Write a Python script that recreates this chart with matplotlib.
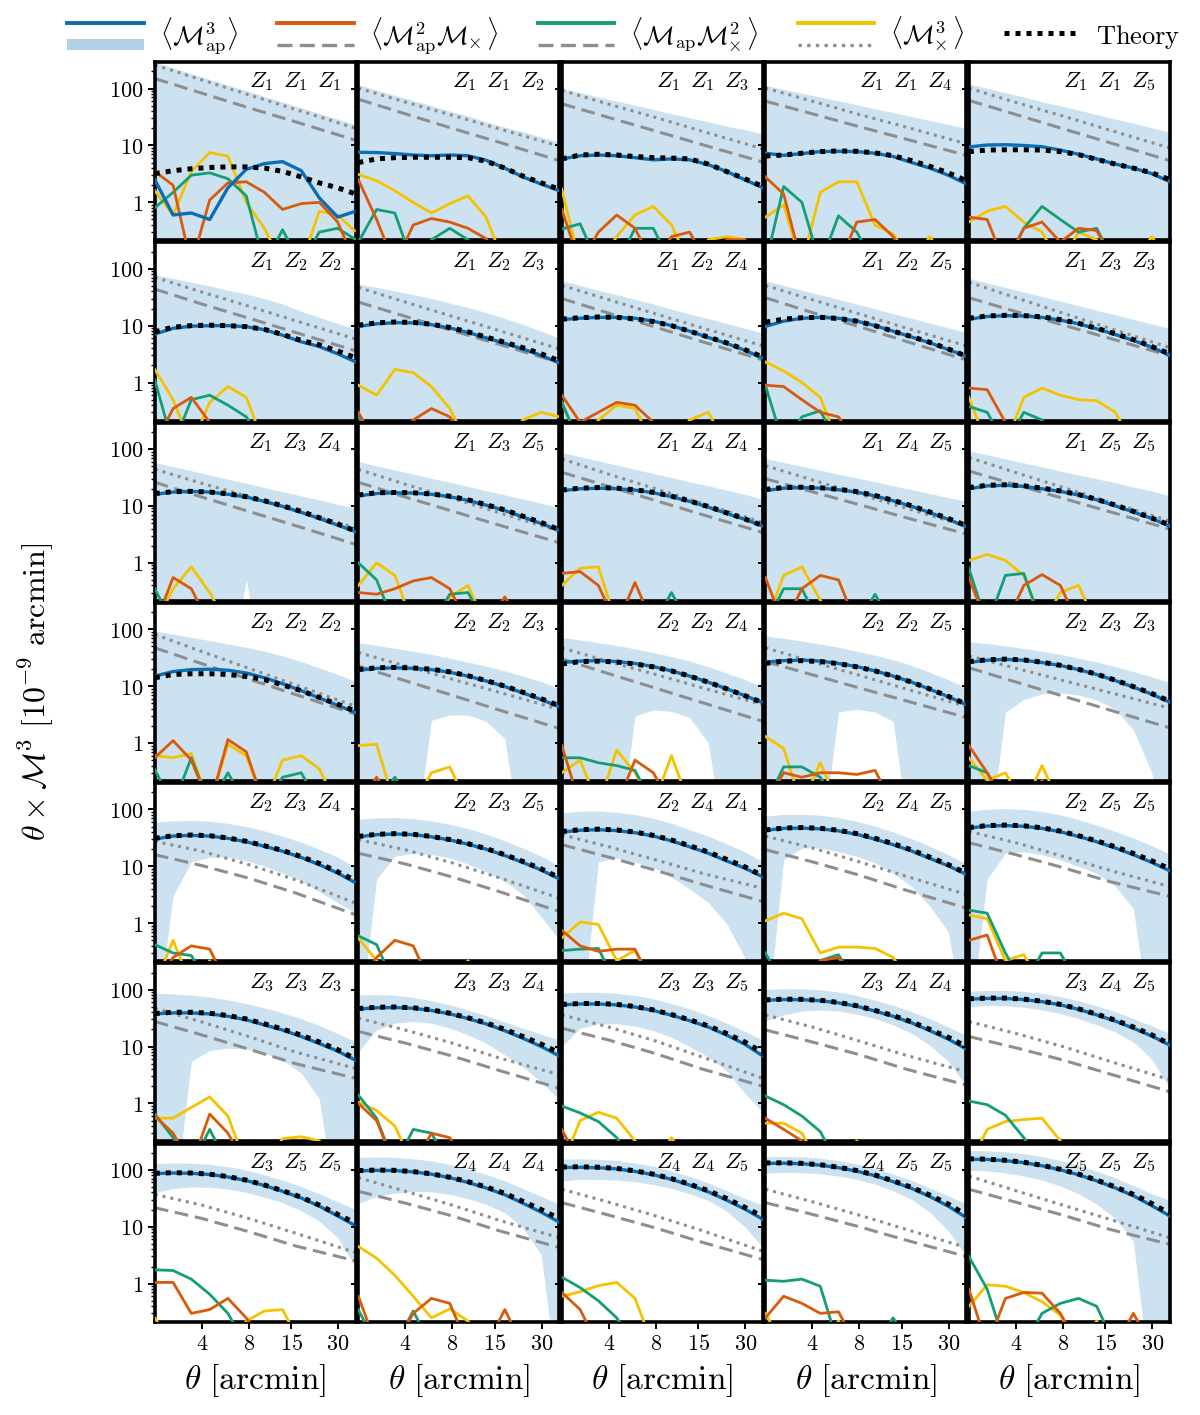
import numpy as np
import matplotlib
matplotlib.use('Agg')
import matplotlib.pyplot as plt
from matplotlib.lines import Line2D
from matplotlib.patches import Patch, Rectangle
from matplotlib.legend_handler import HandlerBase
from matplotlib.ticker import FixedLocator, FuncFormatter, LogLocator, NullFormatter, NullLocator

plt.rcParams['mathtext.fontset'] = 'cm'
plt.rcParams['font.family'] = ['DejaVu Serif']

# ---------------- data ----------------
theta_arcmin = [2.0, 2.62, 3.43, 4.5, 5.89, 7.72, 10.1, 13.2, 17.4, 22.7, 29.8, 39.0]
theta_noise_arcmin = [2.0, 4.0, 8.0, 16.0, 39.0]

bin_triplets = [
    "Z_1 Z_1 Z_1", "Z_1 Z_1 Z_2", "Z_1 Z_1 Z_3", "Z_1 Z_1 Z_4", "Z_1 Z_1 Z_5",
    "Z_1 Z_2 Z_2", "Z_1 Z_2 Z_3", "Z_1 Z_2 Z_4", "Z_1 Z_2 Z_5", "Z_1 Z_3 Z_3",
    "Z_1 Z_3 Z_4", "Z_1 Z_3 Z_5", "Z_1 Z_4 Z_4", "Z_1 Z_4 Z_5", "Z_1 Z_5 Z_5",
    "Z_2 Z_2 Z_2", "Z_2 Z_2 Z_3", "Z_2 Z_2 Z_4", "Z_2 Z_2 Z_5", "Z_2 Z_3 Z_3",
    "Z_2 Z_3 Z_4", "Z_2 Z_3 Z_5", "Z_2 Z_4 Z_4", "Z_2 Z_4 Z_5", "Z_2 Z_5 Z_5",
    "Z_3 Z_3 Z_3", "Z_3 Z_3 Z_4", "Z_3 Z_3 Z_5", "Z_3 Z_4 Z_4", "Z_3 Z_4 Z_5",
    "Z_3 Z_5 Z_5", "Z_4 Z_4 Z_4", "Z_4 Z_4 Z_5", "Z_4 Z_5 Z_5", "Z_5 Z_5 Z_5",
]

x_ticks = [4, 8, 15, 30]
y_ticks = [1, 10, 100]

# <M_ap^3> measured
map3_E = [
    [2.5, 0.6, 0.65, 0.5, 1.8, 3.8, 4.8, 5.2, 3.6, 1.2, 0.55, 0.7],
    [7.6, 7.5, 7.2, 6.8, 6.6, 6.8, 6.6, 5.5, 4.0, 2.8, 2.1, 1.6],
    [5.8, 6.6, 6.8, 6.6, 6.1, 5.6, 5.8, 5.6, 4.6, 3.5, 2.5, 1.8],
    [7.3, 6.7, 7.2, 7.8, 7.9, 7.8, 7.3, 6.4, 5.0, 4.0, 3.0, 2.1],
    [9.4, 10.2, 10.3, 10.0, 9.5, 8.3, 7.0, 5.8, 4.7, 4.0, 3.2, 2.3],
    [7.1, 9.0, 9.8, 10.0, 10.0, 9.6, 8.5, 6.8, 5.2, 4.3, 3.2, 2.3],
    [9.7, 10.8, 11.3, 11.2, 10.4, 9.1, 7.6, 6.1, 4.9, 3.9, 3.0, 2.2],
    [12.8, 13.5, 14.0, 14.0, 13.5, 12.0, 10.0, 8.0, 6.2, 4.9, 3.7, 2.7],
    [9.7, 12.0, 13.5, 14.0, 13.5, 12.0, 10.0, 8.0, 6.3, 5.0, 3.8, 2.9],
    [13.0, 14.5, 15.0, 14.8, 14.0, 12.5, 10.8, 8.8, 7.0, 5.5, 4.2, 3.0],
    [16.0, 17.5, 18.0, 17.5, 16.0, 14.3, 12.0, 9.8, 7.7, 6.0, 4.6, 3.5],
    [15.0, 16.5, 17.0, 16.8, 16.0, 14.5, 12.5, 10.3, 8.3, 6.4, 4.9, 3.7],
    [18.5, 20.0, 20.5, 20.0, 19.0, 17.0, 14.5, 12.0, 9.5, 7.4, 5.8, 4.4],
    [18.5, 20.5, 21.0, 20.5, 19.2, 17.5, 15.0, 12.3, 9.8, 7.6, 5.8, 4.3],
    [20.0, 22.5, 23.0, 22.0, 20.0, 18.0, 15.5, 12.8, 10.0, 7.8, 6.0, 4.4],
    [15.0, 18.0, 19.5, 19.8, 19.0, 17.0, 14.0, 11.0, 8.3, 6.2, 4.6, 3.4],
    [19.0, 20.5, 21.0, 20.5, 19.5, 17.5, 15.0, 12.3, 9.8, 7.6, 5.8, 4.3],
    [26.0, 27.5, 28.0, 27.0, 25.0, 22.0, 18.5, 15.0, 11.7, 9.0, 6.8, 5.1],
    [26.5, 28.0, 28.5, 27.5, 25.0, 22.0, 18.5, 15.0, 11.7, 8.8, 6.5, 4.7],
    [26.0, 28.5, 29.5, 28.5, 26.0, 23.0, 19.5, 16.0, 12.5, 9.6, 7.2, 5.2],
    [30.0, 34.0, 35.0, 34.0, 31.0, 27.0, 22.5, 18.4, 14.3, 10.7, 7.6, 5.1],
    [33.0, 36.0, 37.0, 36.0, 33.0, 29.0, 24.5, 20.0, 15.5, 11.7, 8.6, 6.0],
    [40.0, 43.0, 44.0, 42.5, 39.0, 34.0, 28.0, 22.0, 17.0, 12.5, 9.3, 6.5],
    [43.0, 46.5, 47.0, 45.5, 42.0, 36.5, 30.0, 24.0, 18.5, 13.8, 10.2, 7.2],
    [47.0, 51.0, 52.0, 50.5, 46.5, 40.5, 33.5, 27.0, 21.0, 16.0, 11.7, 8.3],
    [37.5, 39.0, 39.0, 37.5, 34.0, 29.5, 24.0, 19.5, 15.0, 11.3, 8.3, 5.7],
    [45.5, 48.0, 48.5, 47.0, 43.0, 37.5, 31.0, 25.0, 19.0, 14.0, 10.0, 6.8],
    [54.0, 56.0, 56.0, 54.0, 49.5, 43.0, 35.5, 28.5, 22.0, 16.0, 11.0, 6.8],
    [65.0, 67.0, 66.5, 64.0, 58.5, 51.0, 42.0, 34.0, 26.0, 19.0, 13.5, 9.0],
    [68.0, 70.0, 70.0, 67.0, 61.5, 54.0, 45.0, 36.0, 28.0, 21.0, 15.3, 10.5],
    [86.0, 88.0, 87.0, 83.0, 75.0, 65.0, 53.0, 42.0, 32.0, 23.0, 15.5, 10.3],
    [96.0, 98.0, 97.0, 92.0, 84.0, 73.0, 60.0, 48.0, 36.5, 26.0, 18.0, 12.0],
    [110.0, 111.0, 109.0, 104.0, 94.0, 82.0, 68.0, 54.0, 41.0, 29.5, 20.5, 13.5],
    [130.0, 131.0, 128.0, 121.0, 109.0, 95.0, 79.0, 62.0, 47.0, 34.0, 23.0, 14.4],
    [154.0, 152.0, 145.0, 134.0, 118.0, 100.0, 82.0, 64.0, 48.0, 35.0, 23.5, 15.4],
]

# theory prediction
map3_theory = [
    [3.2, 3.6, 3.9, 4.1, 4.2, 4.2, 4.0, 3.5, 2.8, 2.2, 1.8, 1.4],
    [5.0, 5.8, 6.1, 6.2, 6.2, 6.2, 6.1, 5.3, 4.0, 2.9, 2.2, 1.7],
    [5.8, 6.8, 7.0, 6.8, 6.4, 6.1, 6.0, 5.8, 4.7, 3.5, 2.6, 1.9],
    [6.5, 6.8, 7.3, 7.8, 8.0, 7.9, 7.4, 6.6, 5.4, 4.3, 3.3, 2.4],
    [7.8, 8.3, 8.4, 8.4, 8.3, 7.8, 6.9, 5.7, 4.7, 4.0, 3.3, 2.5],
    [7.8, 9.4, 10.0, 10.2, 10.0, 9.6, 8.6, 7.0, 5.5, 4.6, 3.6, 2.7],
    [10.2, 11.2, 11.6, 11.4, 10.6, 9.3, 7.8, 6.3, 5.1, 4.1, 3.2, 2.4],
    [13.0, 13.8, 14.2, 14.0, 13.2, 11.8, 10.0, 8.0, 6.3, 5.0, 3.8, 2.8],
    [11.5, 13.0, 13.8, 14.0, 13.4, 12.0, 10.0, 8.0, 6.4, 5.1, 3.9, 2.9],
    [13.5, 14.8, 15.2, 15.0, 14.3, 12.8, 11.0, 9.0, 7.2, 5.7, 4.3, 3.2],
    [16.5, 17.8, 18.0, 17.5, 16.3, 14.5, 12.3, 10.0, 8.0, 6.2, 4.8, 3.6],
    [15.5, 17.0, 17.2, 17.0, 16.2, 14.8, 12.8, 10.5, 8.5, 6.6, 5.1, 3.8],
    [19.0, 20.5, 21.0, 20.5, 19.2, 17.3, 14.8, 12.2, 9.7, 7.6, 5.9, 4.5],
    [19.5, 21.0, 21.3, 20.8, 19.6, 17.8, 15.2, 12.5, 10.0, 7.8, 6.0, 4.5],
    [21.0, 23.0, 23.5, 22.5, 20.5, 18.3, 15.8, 13.0, 10.3, 8.0, 6.1, 4.6],
    [14.0, 16.0, 16.5, 16.5, 16.0, 14.8, 13.0, 10.5, 8.3, 6.3, 4.8, 3.6],
    [19.5, 21.0, 21.3, 20.8, 19.8, 17.8, 15.2, 12.5, 10.0, 7.8, 6.0, 4.5],
    [24.5, 27.0, 27.5, 26.5, 24.5, 21.8, 18.5, 15.0, 11.7, 9.0, 6.8, 5.1],
    [25.0, 27.5, 28.0, 27.0, 24.8, 21.8, 18.5, 15.0, 11.7, 8.9, 6.6, 4.8],
    [27.0, 29.0, 29.8, 28.8, 26.3, 23.2, 19.7, 16.2, 12.7, 9.8, 7.4, 5.4],
    [31.0, 34.5, 35.5, 34.5, 31.5, 27.5, 23.0, 19.0, 14.8, 11.2, 8.0, 5.6],
    [33.5, 36.5, 37.5, 36.5, 33.5, 29.5, 25.0, 20.5, 16.0, 12.2, 9.0, 6.3],
    [41.0, 44.0, 45.0, 43.5, 40.0, 35.0, 29.0, 23.0, 17.8, 13.3, 9.8, 6.8],
    [43.5, 47.0, 48.0, 46.5, 43.0, 37.5, 31.0, 25.0, 19.3, 14.5, 10.7, 7.5],
    [48.0, 52.0, 53.0, 51.5, 47.5, 41.5, 34.5, 28.0, 22.0, 16.8, 12.5, 9.0],
    [38.0, 40.0, 40.0, 38.5, 35.0, 30.5, 25.0, 20.3, 15.8, 12.0, 8.8, 6.0],
    [46.5, 49.0, 49.5, 48.0, 44.0, 38.5, 32.0, 26.0, 20.0, 15.0, 11.0, 7.7],
    [55.0, 57.0, 57.0, 55.0, 50.5, 44.0, 36.5, 29.5, 23.0, 17.0, 12.0, 7.8],
    [66.0, 68.0, 67.5, 65.0, 59.5, 52.0, 43.0, 35.0, 27.0, 20.0, 14.5, 10.0],
    [69.0, 71.0, 71.0, 68.0, 62.5, 55.0, 46.0, 37.0, 29.0, 22.0, 16.0, 11.0],
    [87.0, 89.0, 88.0, 84.0, 76.0, 66.0, 54.0, 43.0, 33.0, 24.0, 16.5, 11.5],
    [97.0, 99.0, 98.0, 93.0, 85.0, 74.0, 62.0, 50.0, 38.5, 28.0, 20.0, 13.8],
    [112.0, 113.0, 111.0, 106.0, 96.0, 84.0, 70.0, 56.0, 43.0, 31.5, 22.0, 15.0],
    [132.0, 133.0, 130.0, 123.0, 111.0, 97.0, 81.0, 64.0, 49.0, 36.0, 25.0, 16.0],
    [156.0, 154.0, 147.0, 136.0, 120.0, 102.0, 84.0, 66.0, 50.0, 37.0, 25.5, 17.0],
]

# 1-sigma band (upper / lower); 0.01 = below the plotted range
map3_band_hi = [
    [290, 230, 183, 145, 115, 92, 73, 58, 46, 36.5, 29, 23],
    [117, 94, 76, 62, 50, 40, 33, 26, 21, 17.5, 14, 11.5],
    [100, 85, 71, 60, 51, 43, 36, 31, 26, 22, 19, 16],
    [114, 97, 83, 71, 61, 52, 44, 38, 32, 27.5, 23.5, 20],
    [121, 101, 85, 71, 59, 50, 42, 35, 29, 24.5, 20.5, 17],
    [78, 68, 58, 50, 42, 36, 30, 24, 18, 14, 11, 8.5],
    [54, 47, 41, 35, 30, 25, 21, 17, 13.5, 10.5, 8, 6],
    [62, 51, 42, 35, 29, 24, 19.5, 16, 13.3, 11, 9, 7.4],
    [62, 51, 42, 35, 29, 24, 19.7, 16.3, 13.5, 11.1, 9.2, 7.6],
    [68, 56.5, 47, 39, 32.5, 27, 22.5, 18.6, 15.5, 12.9, 10.7, 8.9],
    [58, 49, 41.5, 35, 29.5, 25, 21, 17.8, 15, 12.7, 10.7, 9],
    [60, 50.5, 43, 36, 30.5, 26, 22, 18.5, 15.6, 13.2, 11.1, 9.4],
    [87, 73, 62, 52, 44, 37, 31.5, 26.5, 22.5, 19, 16, 13],
    [68, 58, 49.5, 42.5, 36, 31, 26.5, 22.5, 19.3, 16.5, 14, 12],
    [93, 79, 67, 57, 48.5, 41, 35, 30, 25.5, 21.5, 18.3, 15],
    [93, 82, 72, 63, 55, 48, 41, 34, 27, 21, 16, 12],
    [58, 52, 46, 41, 36, 31, 26.5, 22.5, 18.5, 15, 12, 9],
    [71, 65, 58, 52, 45, 39, 33, 27.5, 22, 17, 13, 9.7],
    [76, 69, 62, 55, 48, 41, 35, 29, 23, 17.5, 13, 9.4],
    [60, 56, 51, 46, 41, 36, 31, 26.5, 22, 18, 14.5, 11.5],
    [60, 63, 64, 62, 57, 50, 42, 34, 26.5, 20, 14.5, 9.5],
    [67, 71, 72, 69, 63, 55, 46, 37, 28, 21, 15, 10],
    [87, 93, 94, 89, 81, 70, 57, 44, 34, 25, 18, 12],
    [76, 82, 82, 79, 72, 62, 51, 40, 30.5, 22.5, 16, 11],
    [93, 101, 103, 100, 92, 80, 66, 53, 41, 31.5, 23, 16.5],
    [87, 84, 80, 74, 66, 57, 48, 39, 31, 23.5, 17, 12],
    [81, 82, 80, 73, 64, 54, 44, 35, 27, 21, 16.5, 13],
    [87, 90, 90, 86, 79, 69, 57, 46, 35, 26, 18.5, 13],
    [100, 104, 103, 99, 91, 79, 65, 53, 41, 31, 22, 15.5],
    [93, 97, 97, 93, 86, 76, 64, 52, 41, 31, 23, 17],
    [129, 132, 131, 125, 114, 99, 82, 66, 51, 38, 27.5, 20],
    [165, 168, 166, 157, 143, 125, 103, 83, 64, 47, 34, 25],
    [154, 156, 153, 146, 132, 116, 96, 77, 59, 43.5, 31.5, 24],
    [170, 172, 169, 160, 145, 127, 106, 84, 65, 48, 35, 25],
    [218, 216, 207, 193, 171, 146, 120, 95, 72, 53, 38, 29],
]

map3_band_lo = [
    [0.01] * 12, [0.01] * 12, [0.01] * 12, [0.01] * 12, [0.01] * 12,
    [0.01] * 12, [0.01] * 12, [0.01] * 12, [0.01] * 12, [0.01] * 12,
    [0.01, 0.01, 0.01, 0.01, 0.01, 0.5, 0.01, 0.01, 0.01, 0.01, 0.01, 0.01],
    [0.01] * 12, [0.01] * 12, [0.01] * 12, [0.01] * 12,
    [0.01] * 12,
    [0.01, 0.01, 0.01, 0.01, 2.5, 3.1, 3.1, 2.4, 1.2, 0.01, 0.01, 0.01],
    [0.01, 0.01, 0.01, 0.01, 3.0, 3.8, 3.6, 2.8, 1.0, 0.01, 0.01, 0.01],
    [0.01, 0.01, 0.01, 0.01, 3.5, 3.9, 3.5, 2.4, 0.01, 0.01, 0.01, 0.01],
    [0.01, 0.01, 3.5, 5.8, 7.3, 7.6, 7.0, 5.7, 3.9, 1.7, 0.3, 0.01],
    [0.01, 3.0, 12, 14.5, 14.5, 12.5, 10, 7.6, 5.5, 3.6, 2.3, 1.5],
    [0.01, 6, 15, 17, 16, 14, 11, 8, 5.5, 3.2, 1.3, 0.5],
    [0.01, 0.01, 12, 14, 12, 9.5, 6.5, 4, 2.3, 1.0, 0.25, 0.01],
    [0.01, 13, 21, 21, 18, 15, 11.5, 7.6, 4.4, 2.0, 0.7, 0.01],
    [0.01, 6, 17, 18, 16, 13, 10, 7.5, 4.4, 1.8, 0.01, 0.01],
    [0.01, 0.01, 5.5, 8.5, 9.4, 9.0, 7.6, 5.8, 3.4, 1.2, 0.01, 0.01],
    [8, 19.6, 25.7, 27.5, 25.7, 21, 16, 11.4, 7.1, 4.4, 2.4, 1.15],
    [10, 21, 25, 25, 23, 19, 14.5, 10, 6.5, 3.8, 1.5, 0.7],
    [28, 36, 42, 44, 42, 37, 31, 24, 17, 10.5, 5.5, 2.0],
    [50, 53, 52, 49, 44, 38, 31, 24, 18, 12, 6, 1.8],
    [40, 47, 50, 49, 46, 40, 33, 26.5, 19, 12.6, 6.4, 1.9],
    [26, 34, 39, 42, 41, 37, 31, 24.8, 17.7, 9.6, 3.2, 0.01],
    [64, 68, 68, 66, 62, 55, 47, 38, 29, 19, 10, 4.3],
    [88, 90, 89, 85, 78, 68, 56, 43, 30, 18, 8.5, 3.0],
    [98, 96, 88, 78, 66, 52, 38, 25, 14, 5.5, 0.01, 0.01],
]

# shape-noise level (grey dashed) and (grey dotted)
noise_dashed = [
    [150, 83, 46, 26, 12.3], [65, 36, 20, 11.4, 5.4], [54, 31, 17.9, 10.3, 5.1],
    [60, 36, 21.4, 12.9, 6.7], [62, 35, 19.7, 11.2, 5.4],
    [44, 24, 13.6, 7.6, 3.6], [26, 14.6, 8.2, 4.7, 2.25], [30, 16.6, 9.4, 5.2, 2.5],
    [31, 17, 9.6, 5.3, 2.5], [31, 17.7, 10.3, 6, 2.95],
    [26, 14.3, 8, 4.5, 2.1], [26, 14.3, 8.1, 4.6, 2.25], [39, 21.9, 12.4, 7, 3.4],
    [30, 17.7, 10.5, 6.2, 3.2], [41, 23.5, 13.6, 7.9, 3.9],
    [47, 24.8, 13.3, 7.1, 3.2], [22.5, 12.4, 6.9, 3.8, 1.8], [30, 16.5, 9.2, 5.1, 2.4],
    [27, 15.8, 9.3, 5.5, 2.8], [21, 11.8, 6.7, 3.8, 1.84],
    [16, 10.3, 6.2, 3.4, 1.4], [17, 11, 6.5, 3.6, 1.6], [24, 14.5, 8.5, 4.8, 2.4],
    [19.6, 12, 7, 3.8, 1.84], [26, 16, 9.5, 5.4, 2.95],
    [27.5, 16, 9, 5, 2.75], [18.4, 11.5, 6.8, 3.8, 1.84], [21, 13, 7.5, 4, 2],
    [19.6, 12, 7.2, 4, 2.1], [15, 9.5, 5.8, 3.3, 1.6],
    [21.6, 14, 8.2, 4.6, 2.5], [42, 26, 15.5, 8.5, 4.3], [26.5, 16, 9.5, 5.3, 2.65],
    [26.5, 16.5, 10, 5.8, 3], [45.6, 27, 16, 9, 4.9],
]

noise_dotted = [
    [260, 142, 78, 43, 20], [102, 58, 34, 19.6, 9.7], [93, 53, 31, 17.7, 8.7],
    [102, 60, 35, 21, 10.7], [102, 57, 33, 18.6, 9],
    [71, 39, 22, 12.2, 5.8], [47, 26, 14.6, 8.2, 3.9], [51, 28.6, 16.1, 9.1, 4.4],
    [51, 28.6, 16.1, 9.1, 4.4], [58, 31, 16.7, 9, 4.1],
    [44, 25, 14.5, 8.3, 4.1], [44, 24, 13.6, 7.6, 3.6], [67, 36, 20, 11, 5.1],
    [51, 28.6, 16.1, 9.1, 4.4], [71, 38.5, 21.2, 11.6, 5.4],
    [81, 40.5, 20.6, 10.5, 4.4], [39, 22.6, 13.2, 7.8, 3.9], [47, 27, 16, 9.3, 4.7],
    [47, 26.8, 15.5, 8.9, 4.4], [34, 20.6, 12.6, 7.7, 4.1],
    [27.5, 18.4, 10.7, 5.8, 2.25], [29.5, 19.5, 11.5, 6.3, 2.75], [36, 22, 13, 7.5, 4.1],
    [34, 21, 12, 6.7, 3.2], [41, 26, 15, 8.5, 4.4],
    [47, 27, 15, 8, 4.1], [31.6, 19.5, 11.5, 6.3, 3.2], [36, 22, 12.5, 6.5, 2.75],
    [36, 22, 12.5, 7, 3.6], [27.5, 17, 10, 5.5, 2.6],
    [37, 24, 14, 7.7, 3.5], [73, 42, 24, 13, 6.4], [45.6, 27, 15.5, 8.5, 3.7],
    [45.6, 27.5, 16, 9, 4.3], [78, 43, 24, 13.5, 6.4],
]

# B-mode / parity-odd measurements (0.08 = below the plotted range)
map2_mx = [
    [3.5, 2.0, 0.08, 1.1, 2.2, 2.3, 1.5, 0.75, 0.95, 1.0, 0.45, 0.08],
    [2.5, 0.5, 0.08, 0.4, 0.52, 0.45, 0.35, 0.23, 0.08, 0.08, 0.08, 0.08],
    [0.75, 0.08, 0.3, 0.6, 0.35, 0.08, 0.25, 0.3, 0.08, 0.22, 0.22, 0.08],
    [2.8, 1.4, 0.08, 0.08, 0.08, 0.45, 0.5, 0.25, 0.08, 0.08, 0.08, 0.08],
    [0.55, 0.5, 0.08, 0.35, 0.45, 0.2, 0.35, 0.32, 0.08, 0.08, 0.08, 0.08],
    [0.08, 0.35, 0.55, 0.2, 0.08, 0.08, 0.08, 0.08, 0.08, 0.08, 0.08, 0.08],
    [0.3, 0.08, 0.08, 0.22, 0.35, 0.25, 0.08, 0.08, 0.08, 0.08, 0.08, 0.08],
    [0.6, 0.2, 0.3, 0.45, 0.4, 0.2, 0.08, 0.08, 0.08, 0.08, 0.08, 0.08],
    [0.9, 0.85, 0.5, 0.3, 0.25, 0.08, 0.08, 0.08, 0.08, 0.08, 0.08, 0.08],
    [0.8, 0.75, 0.2, 0.08, 0.08, 0.08, 0.08, 0.08, 0.08, 0.08, 0.08, 0.08],
    [0.08, 0.55, 0.35, 0.08, 0.08, 0.08, 0.08, 0.08, 0.08, 0.08, 0.08, 0.08],
    [0.3, 0.28, 0.35, 0.48, 0.55, 0.35, 0.08, 0.08, 0.25, 0.08, 0.08, 0.08],
    [0.65, 0.7, 0.4, 0.08, 0.45, 0.08, 0.08, 0.08, 0.08, 0.08, 0.08, 0.08],
    [0.55, 0.08, 0.35, 0.6, 0.5, 0.08, 0.08, 0.08, 0.08, 0.08, 0.08, 0.08],
    [0.55, 0.08, 0.08, 0.4, 0.62, 0.4, 0.08, 0.08, 0.08, 0.08, 0.08, 0.08],
    [0.55, 1.1, 0.5, 0.08, 1.15, 0.7, 0.08, 0.08, 0.08, 0.08, 0.08, 0.08],
    [0.08, 0.25, 0.08, 0.08, 0.08, 0.08, 0.08, 0.08, 0.08, 0.08, 0.08, 0.08],
    [0.9, 0.08, 0.08, 0.08, 0.5, 0.3, 0.08, 0.08, 0.08, 0.08, 0.08, 0.08],
    [0.08, 0.3, 0.25, 0.3, 0.3, 0.28, 0.33, 0.08, 0.08, 0.08, 0.08, 0.08],
    [0.9, 0.3, 0.08, 0.08, 0.22, 0.08, 0.08, 0.08, 0.08, 0.08, 0.08, 0.08],
    [0.08, 0.25, 0.4, 0.35, 0.08, 0.08, 0.08, 0.08, 0.08, 0.08, 0.08, 0.08],
    [0.08, 0.25, 0.5, 0.4, 0.08, 0.08, 0.08, 0.08, 0.08, 0.08, 0.08, 0.08],
    [0.75, 0.4, 0.32, 0.35, 0.35, 0.08, 0.08, 0.08, 0.08, 0.08, 0.08, 0.08],
    [0.08, 0.08, 0.08, 0.22, 0.25, 0.08, 0.08, 0.08, 0.08, 0.08, 0.08, 0.08],
    [0.5, 0.62, 0.08, 0.08, 0.08, 0.08, 0.08, 0.08, 0.08, 0.08, 0.08, 0.08],
    [0.6, 0.3, 0.08, 0.65, 0.3, 0.08, 0.08, 0.08, 0.08, 0.08, 0.08, 0.08],
    [1.0, 0.5, 0.08, 0.08, 0.3, 0.25, 0.08, 0.08, 0.08, 0.08, 0.08, 0.08],
    [0.35, 0.08, 0.08, 0.08, 0.08, 0.08, 0.08, 0.08, 0.08, 0.08, 0.08, 0.08],
    [0.55, 0.35, 0.22, 0.08, 0.08, 0.08, 0.08, 0.08, 0.08, 0.08, 0.08, 0.08],
    [0.08, 0.08, 0.08, 0.08, 0.08, 0.08, 0.08, 0.08, 0.08, 0.08, 0.08, 0.08],
    [1.05, 1.05, 0.3, 0.35, 0.55, 0.25, 0.08, 0.08, 0.08, 0.08, 0.08, 0.08],
    [0.6, 0.08, 0.08, 0.3, 0.55, 0.45, 0.08, 0.08, 0.35, 0.08, 0.08, 0.08],
    [0.7, 0.35, 0.08, 0.08, 0.08, 0.08, 0.08, 0.08, 0.08, 0.08, 0.08, 0.08],
    [0.25, 0.6, 0.45, 0.3, 0.32, 0.08, 0.08, 0.08, 0.08, 0.08, 0.08, 0.08],
    [0.8, 0.08, 0.55, 0.7, 0.68, 0.3, 0.08, 0.08, 0.08, 0.3, 0.08, 0.08],
]

map_mx2 = [
    [0.8, 1.5, 3.0, 3.3, 2.6, 1.3, 0.08, 0.33, 0.08, 0.3, 0.35, 0.22],
    [0.2, 0.75, 0.65, 0.08, 0.22, 0.35, 0.22, 0.08, 0.08, 0.08, 0.08, 0.08],
    [0.34, 0.42, 0.08, 0.08, 0.35, 0.35, 0.08, 0.08, 0.08, 0.08, 0.08, 0.08],
    [0.08, 1.9, 1.0, 0.08, 0.58, 0.3, 0.08, 0.08, 0.08, 0.08, 0.08, 0.08],
    [0.08, 0.08, 0.08, 0.35, 0.85, 0.5, 0.3, 0.35, 0.08, 0.08, 0.08, 0.08],
    [1.1, 0.08, 0.5, 0.6, 0.4, 0.25, 0.08, 0.08, 0.08, 0.08, 0.08, 0.08],
    [0.25, 0.08, 0.08, 0.08, 0.08, 0.08, 0.08, 0.08, 0.08, 0.08, 0.08, 0.08],
    [0.45, 0.08, 0.08, 0.08, 0.08, 0.08, 0.08, 0.08, 0.08, 0.08, 0.08, 0.08],
    [0.9, 0.08, 0.25, 0.32, 0.08, 0.08, 0.08, 0.08, 0.08, 0.08, 0.08, 0.08],
    [0.38, 0.3, 0.08, 0.3, 0.22, 0.08, 0.08, 0.08, 0.08, 0.08, 0.08, 0.08],
    [0.35, 0.08, 0.08, 0.08, 0.08, 0.08, 0.08, 0.08, 0.08, 0.08, 0.08, 0.08],
    [1.0, 0.5, 0.08, 0.08, 0.08, 0.28, 0.3, 0.08, 0.08, 0.08, 0.08, 0.08],
    [0.08, 0.08, 0.08, 0.08, 0.08, 0.08, 0.3, 0.08, 0.08, 0.08, 0.08, 0.08],
    [0.08, 0.35, 0.35, 0.08, 0.08, 0.08, 0.28, 0.08, 0.08, 0.08, 0.08, 0.08],
    [0.8, 0.08, 0.6, 0.65, 0.08, 0.08, 0.08, 0.08, 0.08, 0.08, 0.08, 0.08],
    [0.34, 0.08, 0.55, 0.08, 0.3, 0.08, 0.08, 0.25, 0.3, 0.08, 0.08, 0.08],
    [0.08, 0.08, 0.25, 0.08, 0.08, 0.08, 0.08, 0.08, 0.08, 0.08, 0.08, 0.08],
    [0.55, 0.55, 0.45, 0.4, 0.33, 0.08, 0.08, 0.08, 0.08, 0.08, 0.08, 0.08],
    [0.08, 0.38, 0.38, 0.25, 0.08, 0.08, 0.08, 0.08, 0.08, 0.08, 0.08, 0.08],
    [0.4, 0.3, 0.08, 0.08, 0.08, 0.08, 0.08, 0.08, 0.08, 0.08, 0.08, 0.08],
    [0.42, 0.3, 0.27, 0.08, 0.08, 0.08, 0.08, 0.08, 0.08, 0.08, 0.08, 0.08],
    [0.6, 0.42, 0.08, 0.08, 0.08, 0.08, 0.08, 0.08, 0.08, 0.08, 0.08, 0.08],
    [0.33, 0.35, 0.36, 0.08, 0.08, 0.08, 0.08, 0.08, 0.08, 0.08, 0.08, 0.08],
    [0.3, 0.08, 0.08, 0.22, 0.28, 0.08, 0.08, 0.08, 0.08, 0.08, 0.08, 0.08],
    [1.7, 1.5, 0.3, 0.08, 0.3, 0.3, 0.08, 0.08, 0.08, 0.08, 0.08, 0.08],
    [0.65, 0.25, 0.08, 0.35, 0.08, 0.08, 0.08, 0.08, 0.08, 0.08, 0.08, 0.08],
    [1.4, 0.55, 0.08, 0.35, 0.3, 0.08, 0.08, 0.08, 0.08, 0.08, 0.08, 0.08],
    [0.9, 0.68, 0.48, 0.25, 0.08, 0.08, 0.08, 0.08, 0.08, 0.08, 0.08, 0.08],
    [1.35, 0.95, 0.6, 0.32, 0.08, 0.08, 0.08, 0.08, 0.08, 0.08, 0.08, 0.08],
    [1.1, 0.95, 0.62, 0.25, 0.08, 0.08, 0.08, 0.08, 0.08, 0.08, 0.08, 0.08],
    [1.75, 1.7, 1.2, 0.65, 0.3, 0.08, 0.08, 0.08, 0.08, 0.08, 0.08, 0.08],
    [0.35, 0.08, 0.08, 0.33, 0.08, 0.08, 0.08, 0.08, 0.08, 0.08, 0.08, 0.08],
    [1.3, 0.85, 0.5, 0.25, 0.08, 0.08, 0.08, 0.08, 0.08, 0.08, 0.08, 0.08],
    [1.15, 1.1, 1.2, 0.9, 0.08, 0.08, 0.08, 0.25, 0.08, 0.08, 0.08, 0.08],
    [3.0, 0.8, 0.08, 0.08, 0.3, 0.45, 0.55, 0.4, 0.08, 0.08, 0.08, 0.08],
]

mx3 = [
    [1.6, 0.6, 3.5, 7.5, 6.5, 1.0, 0.35, 0.08, 0.08, 0.7, 0.6, 0.3],
    [3.1, 2.4, 1.6, 1.0, 0.65, 0.95, 1.3, 0.55, 0.08, 0.08, 0.08, 0.08],
    [1.7, 0.08, 0.08, 0.25, 0.6, 0.85, 0.4, 0.08, 0.22, 0.25, 0.22, 0.08],
    [0.55, 0.9, 0.08, 1.5, 2.3, 2.3, 0.4, 0.28, 0.08, 0.25, 0.08, 0.08],
    [0.45, 0.7, 0.85, 0.45, 0.3, 0.08, 0.3, 0.22, 0.08, 0.08, 0.25, 0.08],
    [1.7, 0.5, 0.08, 0.45, 0.85, 0.55, 0.08, 0.08, 0.08, 0.08, 0.08, 0.08],
    [0.9, 0.6, 1.7, 1.5, 0.85, 0.35, 0.08, 0.08, 0.08, 0.22, 0.3, 0.25],
    [0.45, 0.08, 0.22, 0.4, 0.35, 0.08, 0.08, 0.22, 0.3, 0.08, 0.08, 0.08],
    [2.3, 1.6, 1.0, 0.55, 0.08, 0.08, 0.08, 0.08, 0.08, 0.08, 0.08, 0.08],
    [0.55, 0.08, 0.08, 0.55, 0.8, 0.6, 0.5, 0.48, 0.3, 0.08, 0.08, 0.08],
    [0.08, 0.35, 0.85, 0.3, 0.08, 0.08, 0.08, 0.08, 0.08, 0.08, 0.08, 0.08],
    [0.4, 1.0, 0.6, 0.08, 0.08, 0.25, 0.4, 0.08, 0.08, 0.08, 0.08, 0.08],
    [0.4, 0.8, 0.85, 0.08, 0.08, 0.08, 0.08, 0.08, 0.08, 0.08, 0.08, 0.08],
    [0.08, 0.6, 0.85, 0.22, 0.08, 0.08, 0.08, 0.08, 0.08, 0.08, 0.08, 0.08],
    [1.1, 1.4, 1.1, 0.6, 0.08, 0.3, 0.4, 0.08, 0.08, 0.08, 0.08, 0.08],
    [0.6, 0.55, 0.65, 0.08, 0.95, 0.6, 0.08, 0.5, 0.6, 0.35, 0.08, 0.08],
    [0.9, 0.95, 0.08, 0.08, 0.3, 0.38, 0.08, 0.08, 0.08, 0.08, 0.08, 0.08],
    [0.3, 0.5, 0.08, 0.75, 0.3, 0.08, 0.6, 0.08, 0.08, 0.08, 0.08, 0.08],
    [1.3, 0.8, 0.08, 0.45, 0.08, 0.08, 0.08, 0.08, 0.08, 0.08, 0.08, 0.08],
    [0.55, 0.22, 0.3, 0.08, 0.4, 0.08, 0.08, 0.08, 0.08, 0.08, 0.08, 0.08],
    [0.08, 0.5, 0.08, 0.22, 0.08, 0.08, 0.08, 0.08, 0.08, 0.08, 0.08, 0.08],
    [0.55, 0.22, 0.08, 0.08, 0.08, 0.08, 0.22, 0.08, 0.08, 0.08, 0.08, 0.08],
    [0.55, 1.05, 0.95, 0.22, 0.33, 0.08, 0.08, 0.08, 0.08, 0.08, 0.08, 0.08],
    [1.1, 1.5, 1.2, 0.3, 0.38, 0.38, 0.36, 0.25, 0.08, 0.08, 0.08, 0.08],
    [1.4, 1.2, 0.22, 0.28, 0.08, 0.08, 0.08, 0.08, 0.08, 0.08, 0.08, 0.08],
    [0.55, 0.55, 0.85, 1.3, 0.6, 0.08, 0.08, 0.24, 0.26, 0.22, 0.08, 0.08],
    [1.05, 0.75, 0.4, 0.08, 0.08, 0.08, 0.08, 0.08, 0.08, 0.08, 0.08, 0.08],
    [0.08, 0.5, 0.7, 0.55, 0.22, 0.08, 0.25, 0.08, 0.08, 0.08, 0.08, 0.08],
    [0.45, 0.45, 0.3, 0.08, 0.08, 0.22, 0.08, 0.08, 0.08, 0.08, 0.08, 0.08],
    [0.08, 0.35, 0.48, 0.52, 0.55, 0.22, 0.08, 0.08, 0.08, 0.08, 0.08, 0.08],
    [0.25, 0.08, 0.08, 0.08, 0.08, 0.22, 0.33, 0.35, 0.08, 0.08, 0.08, 0.08],
    [4.5, 2.8, 1.4, 0.6, 0.25, 0.36, 0.22, 0.08, 0.08, 0.08, 0.08, 0.08],
    [0.6, 0.72, 0.92, 1.05, 0.55, 0.08, 0.08, 0.08, 0.08, 0.08, 0.08, 0.08],
    [0.3, 0.08, 0.08, 0.08, 0.22, 0.08, 0.08, 0.08, 0.08, 0.08, 0.08, 0.08],
    [0.4, 0.95, 0.9, 0.7, 0.48, 0.28, 0.08, 0.22, 0.08, 0.08, 0.08, 0.08],
]

legend_labels = [
    r'$\langle\mathcal{M}_{\rm ap}^3\rangle$',
    r'$\langle\mathcal{M}_{\rm ap}^2\mathcal{M}_{\!\!\times}\rangle$',
    r'$\langle\mathcal{M}_{\rm ap}\mathcal{M}_{\!\!\times}^2\rangle$',
    r'$\langle\mathcal{M}_{\!\!\times}^3\rangle$',
    r'$\mathrm{Theory}$',
]

# ---------------- style ----------------
BLUE = '#0a6db5'
BAND = '#cde2f0'
BAND_LEG = '#afd0e6'
ORANGE = '#d85a0a'
GREEN = '#149e73'
YELLOW = '#f5c200'
GREY = '#8e8e8e'

NROWS, NCOLS = 7, 5
fig, axes = plt.subplots(NROWS, NCOLS, figsize=(12, 14.15), dpi=100)
fig.subplots_adjust(left=0.129, right=0.975, top=0.956, bottom=0.066,
                    wspace=0.012, hspace=0.012)

dash_style = (0, (4.5, 2.2))
dot_style = (0, (1.0, 1.6))
theory_style = (0, (1.0, 1.2))

for idx, ax in enumerate(axes.flat):
    r, c = divmod(idx, NCOLS)
    ax.set_xscale('log')
    ax.set_yscale('log')
    ax.fill_between(theta_arcmin, map3_band_lo[idx], map3_band_hi[idx],
                    color=BAND, lw=0, zorder=1)
    ax.plot(theta_noise_arcmin, noise_dashed[idx], color=GREY, lw=2.2,
            linestyle=dash_style, zorder=2)
    ax.plot(theta_noise_arcmin, noise_dotted[idx], color=GREY, lw=2.2,
            linestyle=dot_style, zorder=2)
    ax.plot(theta_arcmin, mx3[idx], color=YELLOW, lw=2.0, zorder=3)
    ax.plot(theta_arcmin, map_mx2[idx], color=GREEN, lw=2.0, zorder=3)
    ax.plot(theta_arcmin, map2_mx[idx], color=ORANGE, lw=2.0, zorder=3)
    ax.plot(theta_arcmin, map3_E[idx], color=BLUE, lw=2.4, zorder=4)
    ax.plot(theta_arcmin, map3_theory[idx], color='k', lw=3.6,
            linestyle=theory_style, zorder=5)

    ax.set_xlim(theta_arcmin[0], theta_arcmin[-1])
    ax.set_ylim(0.215, 290)

    ax.xaxis.set_major_locator(FixedLocator(x_ticks))
    ax.xaxis.set_minor_locator(NullLocator())
    ax.yaxis.set_major_locator(FixedLocator(y_ticks))
    ax.yaxis.set_minor_locator(LogLocator(base=10, subs=np.arange(2, 10)))
    ax.yaxis.set_minor_formatter(NullFormatter())
    ax.xaxis.set_major_formatter(FuncFormatter(lambda v, p: f'${v:g}$'))
    ax.yaxis.set_major_formatter(FuncFormatter(lambda v, p: f'${v:g}$'))
    ax.tick_params(which='major', length=5, width=1.4, labelsize=16)
    ax.tick_params(which='minor', length=3, width=1.0)
    if c != 0:
        ax.tick_params(labelleft=False)
    if r != NROWS - 1:
        ax.tick_params(labelbottom=False)
    else:
        ax.set_xlabel(r'$\theta\ [\mathrm{arcmin}]$', fontsize=24, labelpad=5)
    for sp in ax.spines.values():
        sp.set_linewidth(2.6)
    lab = bin_triplets[idx].replace(' ', r'\;\,')
    ax.text(0.93, 0.955, f'${lab}$', transform=ax.transAxes, ha='right',
            va='top', fontsize=16.5, zorder=6)

fig.text(0.03, 0.511, r'$\theta \times \mathcal{M}^3\ [10^{-9}\ \mathrm{arcmin}]$',
         rotation=90, ha='center', va='center', fontsize=23)


# ---------------- legend ----------------
class StackHandler(HandlerBase):
    def create_artists(self, legend, orig_handle, xdescent, ydescent, width,
                       height, fontsize, trans):
        top, bottom = orig_handle
        arts = []
        for art, frac in ((top, 0.92), (bottom, 0.18)):
            y = height * frac - ydescent
            if isinstance(art, Patch):
                a = Rectangle((-xdescent, y - height * 0.2), width, height * 0.4,
                              facecolor=art.get_facecolor(), edgecolor='none',
                              transform=trans)
            else:
                a = Line2D([-xdescent, -xdescent + width], [y, y])
                a.update_from(art)
                a.set_transform(trans)
            arts.append(a)
        return arts


h_blue = Line2D([], [], color=BLUE, lw=2.8)
h_band = Patch(facecolor=BAND_LEG)
h_or = Line2D([], [], color=ORANGE, lw=2.8)
h_gr = Line2D([], [], color=GREEN, lw=2.8)
h_ye = Line2D([], [], color=YELLOW, lw=2.8)
h_dash = Line2D([], [], color=GREY, lw=2.4, linestyle=dash_style)
h_dot = Line2D([], [], color=GREY, lw=2.4, linestyle=dot_style)
h_th = Line2D([], [], color='k', lw=3.6, linestyle=theory_style)

handles = [(h_blue, h_band), (h_or, h_dash), (h_gr, h_dash), (h_ye, h_dot), h_th]
fig.legend(handles, legend_labels, handler_map={tuple: StackHandler()},
           loc='center', bbox_to_anchor=(0.52, 0.975), ncol=5, frameon=False,
           fontsize=19, handlelength=2.9, handleheight=1.3, handletextpad=0.6,
           columnspacing=1.5, borderaxespad=0)

fig.savefig('out.png', dpi=100)
